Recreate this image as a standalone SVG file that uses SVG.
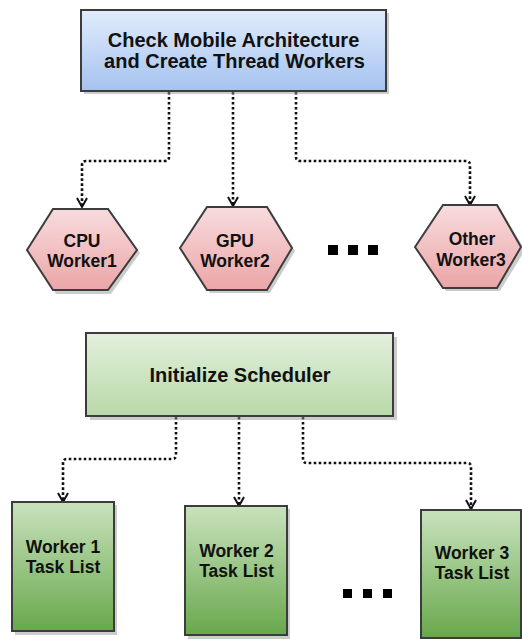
<svg xmlns="http://www.w3.org/2000/svg" width="522" height="639" viewBox="0 0 522 639">
<defs>
<linearGradient id="gBlue" x1="0" y1="0" x2="0" y2="1"><stop offset="0" stop-color="#e1ecfc"/><stop offset="1" stop-color="#a6c2ef"/></linearGradient>
<linearGradient id="gPink" x1="0" y1="0" x2="0" y2="1"><stop offset="0" stop-color="#f8dcde"/><stop offset="1" stop-color="#eba5a7"/></linearGradient>
<linearGradient id="gLGreen" x1="0" y1="0" x2="0" y2="1"><stop offset="0" stop-color="#e3efdc"/><stop offset="1" stop-color="#b8d9a9"/></linearGradient>
<linearGradient id="gGreen" x1="0" y1="0" x2="0" y2="1"><stop offset="0" stop-color="#c9e2bd"/><stop offset="1" stop-color="#68a84c"/></linearGradient>
<marker id="arr" markerWidth="14" markerHeight="14" refX="7" refY="11" orient="0" markerUnits="userSpaceOnUse" viewBox="0 0 14 14">
<path d="M2,2 L7,11 L12,2" fill="none" stroke="#111" stroke-width="2"/>
</marker>
</defs>
<style>
.box{stroke:#3c3c3c;stroke-width:2}
.shadow{fill:#9a9a9a;opacity:0.5}
.t{font-family:"Liberation Sans",Arial,sans-serif;font-weight:bold;fill:#111;text-anchor:middle}
.conn{fill:none;stroke:#111;stroke-width:2.6;stroke-dasharray:2.6 2.4;marker-end:url(#arr)}
.dot{fill:#000}
</style>

<g id="connectors">
<path class="conn" d="M169,92 V157 Q169,161 165,161 H86 Q82,161 82,165 V207"/>
<path class="conn" d="M233,92 V206"/>
<path class="conn" d="M296,92 V157 Q296,161 300,161 H466 Q470,161 470,165 V205"/>
<path class="conn" d="M176,417 V455 Q176,459 172,459 H67 Q63,459 63,463 V502"/>
<path class="conn" d="M239,417 V506"/>
<path class="conn" d="M303,417 V459 Q303,463 307,463 H467 Q471,463 471,467 V509"/>
</g>

<g id="check-arch">
<rect class="shadow" x="84" y="13" width="305" height="81"/>
<rect class="box" x="81" y="10" width="305" height="81" fill="url(#gBlue)"/>
<text class="t" x="233.5" y="47" font-size="20">Check Mobile Architecture</text>
<text class="t" x="234.5" y="68" font-size="20">and Create Thread Workers</text>
</g>

<g id="cpu-worker">
<polygon class="shadow" points="30,253 56,212 111,212 140,253 111,294 56,294"/>
<polygon class="box" points="27,250 53,209 108,209 137,250 108,290 53,290" fill="url(#gPink)"/>
<text class="t" x="82" y="247" font-size="17.5">CPU</text>
<text class="t" x="82" y="267" font-size="17.5">Worker1</text>
</g>

<g id="gpu-worker">
<polygon class="shadow" points="183,251 210,210 270,210 295,251 270,293 210,293"/>
<polygon class="box" points="180,248 207,207 267,207 292,248 267,290 207,290" fill="url(#gPink)"/>
<text class="t" x="235" y="247" font-size="17.5">GPU</text>
<text class="t" x="235" y="267" font-size="17.5">Worker2</text>
</g>

<g id="dots-top">
<rect class="dot" x="328" y="245" width="10" height="10"/>
<rect class="dot" x="348" y="245" width="10" height="10"/>
<rect class="dot" x="368" y="245" width="10" height="10"/>
</g>

<g id="other-worker">
<polygon class="shadow" points="418,250 446,208 500,208 525,250 500,291 446,291"/>
<polygon class="box" points="415,247 443,205 497,205 521,247 497,288 443,288" fill="url(#gPink)"/>
<text class="t" x="472" y="245" font-size="17.5">Other</text>
<text class="t" x="471" y="266" font-size="17.5">Worker3</text>
</g>

<g id="init-scheduler">
<rect class="shadow" x="90" y="337" width="307" height="83"/>
<rect class="box" x="86" y="333" width="307" height="83" fill="url(#gLGreen)"/>
<text class="t" x="240" y="382" font-size="20">Initialize Scheduler</text>
</g>

<g id="worker1-tasks">
<rect class="shadow" x="15" y="505" width="102" height="130"/>
<rect class="box" x="12" y="502" width="102" height="129" fill="url(#gGreen)"/>
<text class="t" x="63" y="553" font-size="17.5">Worker 1</text>
<text class="t" x="63" y="573" font-size="17.5">Task List</text>
</g>

<g id="worker2-tasks">
<rect class="shadow" x="188" y="509" width="102" height="130"/>
<rect class="box" x="185" y="506" width="102" height="129" fill="url(#gGreen)"/>
<text class="t" x="236.5" y="557" font-size="17.5">Worker 2</text>
<text class="t" x="236.5" y="577" font-size="17.5">Task List</text>
</g>

<g id="dots-bottom">
<rect class="dot" x="343" y="589" width="9" height="9"/>
<rect class="dot" x="363" y="589" width="9" height="9"/>
<rect class="dot" x="383" y="589" width="9" height="9"/>
</g>

<g id="worker3-tasks">
<rect class="shadow" x="424" y="513" width="102" height="130"/>
<rect class="box" x="421" y="510" width="100" height="128" fill="url(#gGreen)"/>
<text class="t" x="472" y="559" font-size="17.5">Worker 3</text>
<text class="t" x="472" y="579" font-size="17.5">Task List</text>
</g>
</svg>
